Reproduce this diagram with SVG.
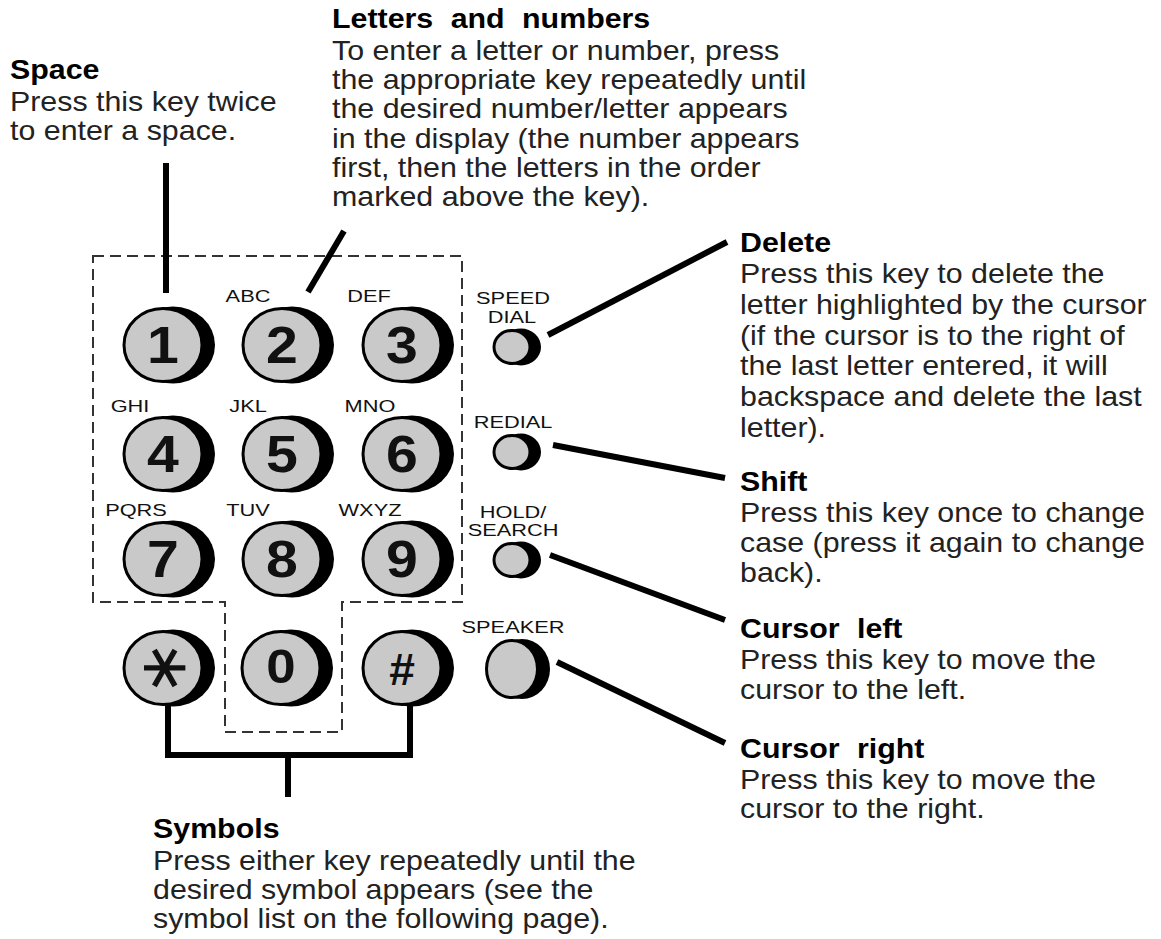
<svg xmlns="http://www.w3.org/2000/svg" xmlns:xlink="http://www.w3.org/1999/xlink" width="1161" height="939" viewBox="0 0 1161 939">
  <style>
    .shadow { fill: #000; }
    .face { fill: #c9c9c9; stroke: #000; stroke-width: 3; }
    .digit { font-family: "Liberation Sans", Arial, sans-serif; font-weight: bold; font-size: 52px; fill: #111; text-anchor: middle; }
    .sym { font-family: "Liberation Sans", Arial, sans-serif; font-weight: bold; font-size: 44px; fill: #111; text-anchor: middle; }
    .lbl { font-family: "Liberation Sans", Arial, sans-serif; font-size: 16.5px; fill: #111; text-anchor: middle; }
    .txt { font-family: "Liberation Sans", Arial, sans-serif; font-size: 27px; fill: #222; }
    .head { font-weight: bold; fill: #000; }
    .wide { word-spacing: 8px; }
    .conn { fill: none; stroke: #000; stroke-width: 6; stroke-linecap: butt; stroke-linejoin: miter; }
    .outline { fill: none; stroke: #333; stroke-width: 2; stroke-dasharray: 11 6; }
  </style>
  <defs>
    <!-- numeric keycap: face with a dark crescent on its right side -->
    <g id="keycap">
      <ellipse class="shadow" cx="10" cy="0" rx="42" ry="38.5"/>
      <ellipse class="face" cx="0" cy="0" rx="39" ry="36.5"/>
    </g>
    <!-- small function button -->
    <g id="fbutton">
      <ellipse class="shadow" cx="9" cy="0" rx="20" ry="18.5"/>
      <ellipse class="face" cx="0" cy="0" rx="18" ry="16.5"/>
    </g>
    <!-- larger speaker button -->
    <g id="sbutton">
      <ellipse class="shadow" cx="10" cy="0" rx="28" ry="30"/>
      <ellipse class="face" cx="0" cy="0" rx="25.5" ry="28.5"/>
    </g>
  </defs>

  <rect width="1161" height="939" fill="#fff"/>

  <!-- dashed boundary around the letter/number keys -->
  <g id="keypad-outline">
    <path class="outline" d="M93,256 H462 V602 H342 V732 H225 V602 H93 Z"/>
  </g>

  <!-- leader lines -->
  <g id="connectors">
    <path class="conn" d="M166,163 V293"/>
    <path class="conn" stroke-width="5.5" d="M308,292 L344,231"/>
    <path class="conn" stroke-width="5.5" d="M548,335 L727,242"/>
    <path class="conn" stroke-width="5.5" d="M553,445 L725,478"/>
    <path class="conn" stroke-width="5.5" d="M550,555 L725,620"/>
    <path class="conn" stroke-width="5.5" d="M557,662 L725,743"/>
    <path class="conn" d="M168,703 V755 H410 V703 M288,755 V797"/>
  </g>

  <!-- numeric keys -->
  <g id="key-1"><use xlink:href="#keycap" href="#keycap" transform="translate(163,345)"/><text class="digit" transform="translate(163,363) scale(1.1,1)">1</text></g>
  <g id="key-2"><use xlink:href="#keycap" href="#keycap" transform="translate(282,345)"/><text class="digit" transform="translate(282,363) scale(1.1,1)">2</text><text class="lbl" transform="translate(248,302) scale(1.32,1)">ABC</text></g>
  <g id="key-3"><use xlink:href="#keycap" href="#keycap" transform="translate(402,345)"/><text class="digit" transform="translate(402,363) scale(1.1,1)">3</text><text class="lbl" transform="translate(369,302) scale(1.32,1)">DEF</text></g>

  <g id="key-4"><use xlink:href="#keycap" href="#keycap" transform="translate(163,454)"/><text class="digit" transform="translate(163,472) scale(1.1,1)">4</text><text class="lbl" transform="translate(130,412) scale(1.32,1)">GHI</text></g>
  <g id="key-5"><use xlink:href="#keycap" href="#keycap" transform="translate(282,454)"/><text class="digit" transform="translate(282,472) scale(1.1,1)">5</text><text class="lbl" transform="translate(248,412) scale(1.32,1)">JKL</text></g>
  <g id="key-6"><use xlink:href="#keycap" href="#keycap" transform="translate(402,454)"/><text class="digit" transform="translate(402,472) scale(1.1,1)">6</text><text class="lbl" transform="translate(370,412) scale(1.32,1)">MNO</text></g>

  <g id="key-7"><use xlink:href="#keycap" href="#keycap" transform="translate(163,559)"/><text class="digit" transform="translate(163,577) scale(1.1,1)">7</text><text class="lbl" transform="translate(136,516) scale(1.32,1)">PQRS</text></g>
  <g id="key-8"><use xlink:href="#keycap" href="#keycap" transform="translate(282,559)"/><text class="digit" transform="translate(282,577) scale(1.1,1)">8</text><text class="lbl" transform="translate(248,516) scale(1.32,1)">TUV</text></g>
  <g id="key-9"><use xlink:href="#keycap" href="#keycap" transform="translate(402,559)"/><text class="digit" transform="translate(402,577) scale(1.1,1)">9</text><text class="lbl" transform="translate(370,516) scale(1.32,1)">WXYZ</text></g>

  <g id="key-star"><use xlink:href="#keycap" href="#keycap" transform="translate(163,668)"/><g transform="translate(163,668) rotate(90)"><text style="font-family:'DejaVu Sans',sans-serif;font-size:66px;fill:#111;text-anchor:middle" x="0" y="19">∗</text></g></g>
  <g id="key-0"><use xlink:href="#keycap" href="#keycap" transform="translate(281,668)"/><text class="digit" style="font-size:48px" transform="translate(281,683) scale(1.1,1)">0</text></g>
  <g id="key-hash"><use xlink:href="#keycap" href="#keycap" transform="translate(402,668)"/><text class="sym" transform="translate(402,685) scale(1.05,1)">#</text></g>

  <!-- function buttons -->
  <g id="btn-speed-dial"><use xlink:href="#fbutton" href="#fbutton" transform="translate(512,347)"/><text class="lbl" transform="translate(513,304) scale(1.32,1)">SPEED</text><text class="lbl" transform="translate(512,323) scale(1.32,1)">DIAL</text></g>
  <g id="btn-redial"><use xlink:href="#fbutton" href="#fbutton" transform="translate(512,452)"/><text class="lbl" transform="translate(513,428) scale(1.32,1)">REDIAL</text></g>
  <g id="btn-hold-search"><use xlink:href="#fbutton" href="#fbutton" transform="translate(512,560)"/><text class="lbl" transform="translate(513,518) scale(1.32,1)">HOLD/</text><text class="lbl" transform="translate(513,536) scale(1.32,1)">SEARCH</text></g>
  <g id="btn-speaker"><use xlink:href="#sbutton" href="#sbutton" transform="translate(512,669)"/><text class="lbl" transform="translate(513,633) scale(1.32,1)">SPEAKER</text></g>

  <!-- callout notes -->
  <g id="note-space">
    <text class="txt" transform="translate(10,0) scale(1.125,1)">
      <tspan class="head" x="0" y="79">Space</tspan>
      <tspan x="0" y="111">Press this key twice</tspan>
      <tspan x="0" y="140">to enter a space.</tspan>
    </text>
  </g>

  <g id="note-letters">
    <text class="txt" transform="translate(332,0) scale(1.125,1)">
      <tspan class="head wide" x="0" y="28">Letters and numbers</tspan>
      <tspan x="0" y="60">To enter a letter or number, press</tspan>
      <tspan x="0" y="89">the appropriate key repeatedly until</tspan>
      <tspan x="0" y="118">the desired number/letter appears</tspan>
      <tspan x="0" y="148">in the display (the number appears</tspan>
      <tspan x="0" y="177">first, then the letters in the order</tspan>
      <tspan x="0" y="206">marked above the key).</tspan>
    </text>
  </g>

  <g id="note-delete">
    <text class="txt" transform="translate(740,0) scale(1.125,1)">
      <tspan class="head" x="0" y="252">Delete</tspan>
      <tspan x="0" y="283">Press this key to delete the</tspan>
      <tspan x="0" y="314">letter highlighted by the cursor</tspan>
      <tspan x="0" y="345">(if the cursor is to the right of</tspan>
      <tspan x="0" y="375">the last letter entered, it will</tspan>
      <tspan x="0" y="406">backspace and delete the last</tspan>
      <tspan x="0" y="437">letter).</tspan>
    </text>
  </g>

  <g id="note-shift">
    <text class="txt" transform="translate(740,0) scale(1.125,1)">
      <tspan class="head" x="0" y="491">Shift</tspan>
      <tspan x="0" y="522">Press this key once to change</tspan>
      <tspan x="0" y="552">case (press it again to change</tspan>
      <tspan x="0" y="582">back).</tspan>
    </text>
  </g>

  <g id="note-cursor-left">
    <text class="txt" transform="translate(740,0) scale(1.125,1)">
      <tspan class="head wide" x="0" y="638">Cursor left</tspan>
      <tspan x="0" y="669">Press this key to move the</tspan>
      <tspan x="0" y="699">cursor to the left.</tspan>
    </text>
  </g>

  <g id="note-cursor-right">
    <text class="txt" transform="translate(740,0) scale(1.125,1)">
      <tspan class="head wide" x="0" y="758">Cursor right</tspan>
      <tspan x="0" y="789">Press this key to move the</tspan>
      <tspan x="0" y="818">cursor to the right.</tspan>
    </text>
  </g>

  <g id="note-symbols">
    <text class="txt" transform="translate(153,0) scale(1.125,1)">
      <tspan class="head" x="0" y="838">Symbols</tspan>
      <tspan x="0" y="870">Press either key repeatedly until the</tspan>
      <tspan x="0" y="899">desired symbol appears (see the</tspan>
      <tspan x="0" y="928">symbol list on the following page).</tspan>
    </text>
  </g>
</svg>
